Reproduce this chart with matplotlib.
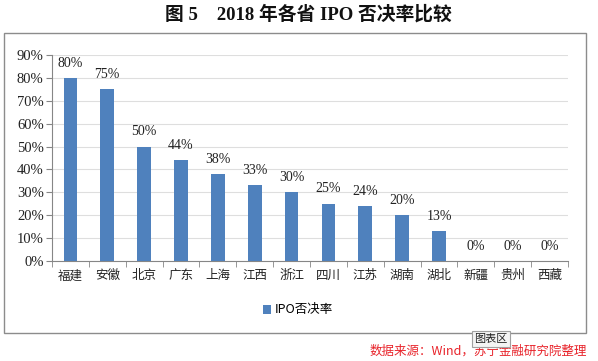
import matplotlib.pyplot as plt
from matplotlib.patches import Rectangle
import numpy as np

provinces = ['福建', '安徽', '北京', '广东', '上海', '江西', '浙江', '四川', '江苏', '湖南', '湖北', '新疆', '贵州', '西藏']
reject_rate = [80, 75, 50, 44, 38, 33, 30, 25, 24, 20, 13, 0, 0, 0]
yticks = [0, 10, 20, 30, 40, 50, 60, 70, 80, 90]

W, H = 598, 361
fig = plt.figure(figsize=(W / 100, H / 100), dpi=100)

serif = ['Liberation Serif', 'Noto Sans CJK SC']
cjk = ['Noto Sans CJK SC', 'DejaVu Sans']

# chart frame
fig.patches.append(Rectangle((4 / W, 1 - 333 / H), 582 / W, 300 / H, transform=fig.transFigure,
                             fill=False, edgecolor='#8c8c8c', linewidth=1.0))

ax = fig.add_axes([52 / W, 1 - 261 / H, 516 / W, 206 / H])
x = np.arange(len(provinces))
bars = ax.bar(x, reject_rate, width=0.37, color='#4F81BD', zorder=3, label='IPO否决率')

for b, v in zip(bars, reject_rate):
    ax.annotate(f'{v}%', (b.get_x() + b.get_width() / 2, v), xytext=(0, 6), textcoords='offset points',
                ha='center', va='bottom', fontsize=10, family=serif, color='#222222')

ax.set_xlim(-0.5, len(provinces) - 0.5)
ax.set_ylim(0, 90)
ax.set_yticks(yticks)
ax.set_yticklabels([f'{t}%' for t in yticks], family=serif, fontsize=10.5)
ax.set_xticks(x)
ax.set_xticklabels(provinces, family=cjk, fontsize=9)
ax.set_xticks(np.arange(-0.5, len(provinces), 1), minor=True)
ax.tick_params(axis='x', which='major', length=0, pad=6, colors='#222222')
ax.tick_params(axis='x', which='minor', length=4, color='#868686')
ax.tick_params(axis='y', length=4, color='#868686', pad=2, colors='#222222')
for t in ax.get_yticklines():
    t.set_color('#868686')
ax.grid(axis='y', color='#dedede', linewidth=0.8, zorder=0)
for s in ['top', 'right']:
    ax.spines[s].set_visible(False)
for s in ['left', 'bottom']:
    ax.spines[s].set_color('#868686')

ax.legend(loc='center', bbox_to_anchor=(298 / W, 1 - 310 / H), bbox_transform=fig.transFigure,
          frameon=False, prop={'family': cjk, 'size': 9}, handlelength=0.7, handleheight=0.7,
          handletextpad=0.3)

fig.text(308 / W, 1 - 14 / H, '图 5    2018 年各省 IPO 否决率比较', ha='center', va='center',
         family=serif, fontsize=13.5, fontweight='bold', color='#111111')

fig.text(587 / W, 1 - 351 / H, '数据来源：Wind，苏宁金融研究院整理', ha='right', va='center',
         family=cjk, fontsize=9, style='italic', color='#e8232a')

fig.text(491 / W, 1 - 339 / H, '图表区', ha='center', va='center', family=cjk, fontsize=8,
         color='#222222', bbox=dict(boxstyle='square,pad=0.25', facecolor='#f4f4f4',
                                    edgecolor='#a0a0a0', linewidth=0.8))

fig.savefig('out.png', dpi=100)
